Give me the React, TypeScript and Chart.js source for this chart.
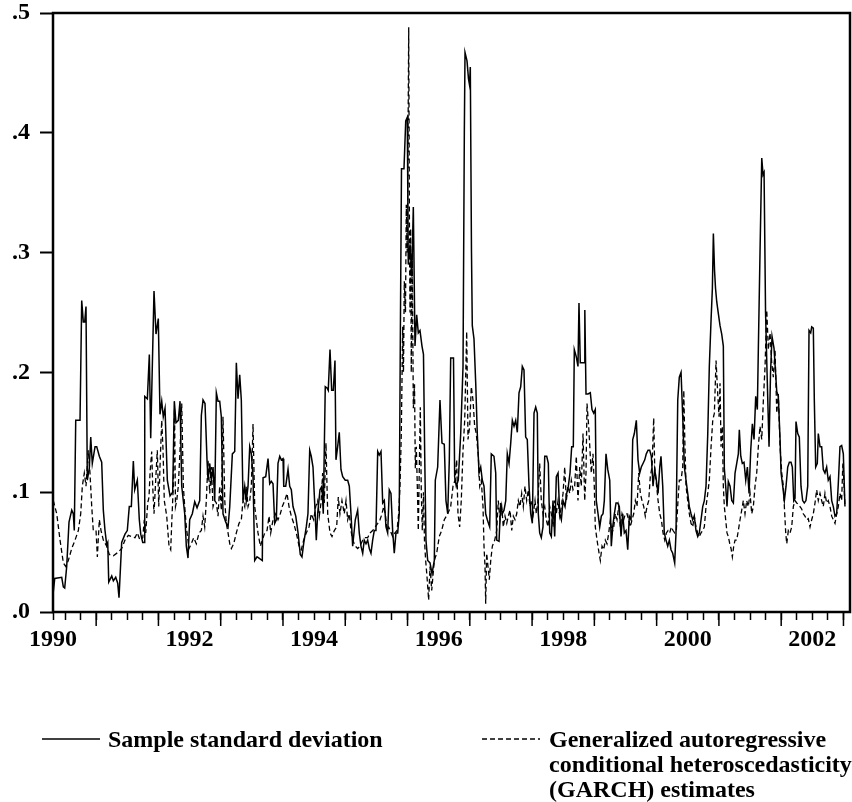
import React, { useEffect, useRef } from 'react';
import { Chart, registerables } from 'chart.js';

Chart.register(...registerables);

// Sample standard deviation (decimal year, value)
const SD_DATES = [
  1989.812, 1989.835, 1989.947, 1989.973, 1989.995, 1990.027, 1990.064, 1990.108, 1990.133, 1990.149,
  1990.172, 1990.241, 1990.268, 1990.294, 1990.316, 1990.337, 1990.358, 1990.390, 1990.413, 1990.438,
  1990.482, 1990.509, 1990.551, 1990.589, 1990.615, 1990.642, 1990.670, 1990.686, 1990.702, 1990.750,
  1990.776, 1990.814, 1990.846, 1990.867, 1990.910, 1990.963, 1991.000, 1991.032, 1991.065, 1991.097,
  1991.119, 1991.161, 1991.193, 1991.216, 1991.248, 1991.269, 1991.280, 1991.322, 1991.354, 1991.376,
  1991.429, 1991.461, 1991.498, 1991.525, 1991.553, 1991.578, 1991.606, 1991.643, 1991.686, 1991.729,
  1991.755, 1991.782, 1991.819, 1991.847, 1991.874, 1991.895, 1991.922, 1991.948, 1991.975, 1992.002,
  1992.044, 1992.083, 1992.120, 1992.163, 1992.189, 1992.216, 1992.248, 1992.280, 1992.296, 1992.324,
  1992.349, 1992.377, 1992.404, 1992.430, 1992.457, 1992.484, 1992.510, 1992.537, 1992.581, 1992.618,
  1992.645, 1992.687, 1992.725, 1992.751, 1992.778, 1992.805, 1992.831, 1992.858, 1992.886, 1992.911,
  1992.939, 1992.966, 1992.992, 1993.019, 1993.046, 1993.083, 1993.115, 1993.168, 1993.180, 1993.223,
  1993.260, 1993.287, 1993.313, 1993.340, 1993.367, 1993.393, 1993.420, 1993.448, 1993.473, 1993.501,
  1993.512, 1993.544, 1993.581, 1993.608, 1993.634, 1993.661, 1993.705, 1993.742, 1993.778, 1993.805,
  1993.832, 1993.874, 1993.901, 1993.929, 1993.954, 1993.982, 1994.009, 1994.035, 1994.057, 1994.094,
  1994.126, 1994.147, 1994.179, 1994.207, 1994.227, 1994.255, 1994.282, 1994.308, 1994.335, 1994.351,
  1994.378, 1994.404, 1994.431, 1994.459, 1994.500, 1994.539, 1994.565, 1994.592, 1994.619, 1994.661,
  1994.699, 1994.725, 1994.752, 1994.780, 1994.805, 1994.833, 1994.860, 1994.886, 1994.913, 1994.940,
  1994.966, 1994.993, 1995.021, 1995.046, 1995.074, 1995.101, 1995.127, 1995.154, 1995.181, 1995.207,
  1995.234, 1995.261, 1995.287, 1995.314, 1995.342, 1995.367, 1995.387, 1995.403, 1995.443, 1995.471,
  1995.496, 1995.512, 1995.540, 1995.567, 1995.593, 1995.620, 1995.647, 1995.673, 1995.700, 1995.732,
  1995.756, 1995.776, 1995.796, 1995.824, 1995.861, 1995.893, 1995.930, 1995.946, 1995.984, 1996.021,
  1996.053, 1996.090, 1996.117, 1996.145, 1996.171, 1996.193, 1996.238, 1996.257, 1996.283, 1996.315,
  1996.354, 1996.391, 1996.412, 1996.423, 1996.455, 1996.479, 1996.495, 1996.508, 1996.527, 1996.540,
  1996.567, 1996.595, 1996.620, 1996.648, 1996.675, 1996.701, 1996.728, 1996.755, 1996.781, 1996.819,
  1996.845, 1996.888, 1996.916, 1996.932, 1996.969, 1996.996, 1997.022, 1997.049, 1997.077, 1997.102,
  1997.130, 1997.157, 1997.183, 1997.210, 1997.237, 1997.263, 1997.290, 1997.317, 1997.343, 1997.370,
  1997.397, 1997.423, 1997.451, 1997.478, 1997.504, 1997.531, 1997.558, 1997.584, 1997.600, 1997.622,
  1997.648, 1997.675, 1997.703, 1997.735, 1997.761, 1997.783, 1997.809, 1997.836, 1997.863, 1997.889,
  1997.917, 1997.944, 1997.970, 1997.997, 1998.029, 1998.056, 1998.082, 1998.109, 1998.136, 1998.162,
  1998.178, 1998.210, 1998.237, 1998.253, 1998.274, 1998.334, 1998.347, 1998.366, 1998.398, 1998.435,
  1998.462, 1998.490, 1998.515, 1998.531, 1998.559, 1998.586, 1998.612, 1998.639, 1998.660, 1998.687,
  1998.715, 1998.747, 1998.772, 1998.795, 1998.821, 1998.848, 1998.875, 1998.901, 1998.928, 1998.955,
  1998.981, 1999.008, 1999.036, 1999.061, 1999.089, 1999.116, 1999.142, 1999.174, 1999.201, 1999.228,
  1999.254, 1999.281, 1999.309, 1999.334, 1999.362, 1999.389, 1999.415, 1999.442, 1999.469, 1999.495,
  1999.523, 1999.550, 1999.570, 1999.598, 1999.623, 1999.651, 1999.678, 1999.704, 1999.731, 1999.758,
  1999.790, 1999.811, 1999.839, 1999.864, 1999.892, 1999.919, 1999.945, 1999.972, 1999.999, 2000.025,
  2000.052, 2000.079, 2000.105, 2000.132, 2000.160, 2000.185, 2000.213, 2000.240, 2000.266, 2000.293,
  2000.321, 2000.346, 2000.374, 2000.395, 2000.411, 2000.430, 2000.446, 2000.465, 2000.491, 2000.518,
  2000.545, 2000.571, 2000.587, 2000.609, 2000.630, 2000.651, 2000.679, 2000.706, 2000.732, 2000.759,
  2000.786, 2000.812, 2000.828, 2000.851, 2000.876, 2000.903, 2000.931, 2000.957, 2000.984, 2001.011,
  2001.037, 2001.064, 2001.091, 2001.117, 2001.133, 2001.160, 2001.188, 2001.209, 2001.225, 2001.249,
  2001.273, 2001.305, 2001.329, 2001.353, 2001.385, 2001.429, 2001.454, 2001.482, 2001.498, 2001.525,
  2001.551, 2001.578, 2001.605, 2001.631, 2001.658, 2001.679, 2001.702, 2001.722, 2001.738, 2001.766,
  2001.791, 2001.818, 2001.845, 2001.871, 2001.898, 2001.926, 2001.947, 2001.974, 2001.990, 2002.016,
  2002.032, 2002.054, 2002.080, 2002.096, 2002.123, 2002.150, 2002.176, 2002.203, 2002.230, 2002.256,
  2002.284, 2002.311, 2002.337, 2002.364, 2002.391, 2002.417, 2002.444, 2002.471, 2002.498, 2002.524,
];
const SD_VALUES = [
  0.017, 0.028, 0.029, 0.021, 0.020, 0.038, 0.075, 0.085, 0.082, 0.068,
  0.160, 0.160, 0.260, 0.242, 0.242, 0.255, 0.110, 0.120, 0.146, 0.124,
  0.138, 0.138, 0.130, 0.125, 0.085, 0.068, 0.056, 0.058, 0.025, 0.030,
  0.026, 0.029, 0.024, 0.012, 0.058, 0.065, 0.068, 0.088, 0.088, 0.126,
  0.102, 0.110, 0.077, 0.065, 0.058, 0.058, 0.180, 0.178, 0.215, 0.145,
  0.268, 0.232, 0.245, 0.165, 0.176, 0.163, 0.170, 0.110, 0.097, 0.100,
  0.176, 0.158, 0.160, 0.176, 0.105, 0.095, 0.082, 0.055, 0.045, 0.077,
  0.082, 0.092, 0.087, 0.093, 0.164, 0.177, 0.174, 0.127, 0.110, 0.124,
  0.110, 0.121, 0.093, 0.183, 0.176, 0.176, 0.163, 0.082, 0.075, 0.071,
  0.088, 0.132, 0.134, 0.208, 0.178, 0.198, 0.177, 0.093, 0.105, 0.093,
  0.105, 0.138, 0.132, 0.113, 0.043, 0.046, 0.045, 0.043, 0.112, 0.113,
  0.128, 0.107, 0.109, 0.107, 0.074, 0.077, 0.124, 0.130, 0.127, 0.128,
  0.105, 0.105, 0.119, 0.105, 0.102, 0.088, 0.080, 0.066, 0.048, 0.046,
  0.057, 0.071, 0.082, 0.135, 0.130, 0.121, 0.091, 0.060, 0.082, 0.102,
  0.105, 0.082, 0.188, 0.187, 0.185, 0.219, 0.185, 0.185, 0.210, 0.127,
  0.138, 0.150, 0.119, 0.113, 0.110, 0.110, 0.105, 0.082, 0.055, 0.077,
  0.085, 0.066, 0.055, 0.049, 0.060, 0.057, 0.060, 0.053, 0.049, 0.060,
  0.068, 0.068, 0.134, 0.131, 0.134, 0.091, 0.093, 0.071, 0.066, 0.102,
  0.099, 0.068, 0.049, 0.066, 0.066, 0.082, 0.250, 0.370, 0.370, 0.410,
  0.413, 0.290, 0.307, 0.280, 0.338, 0.222, 0.248, 0.233, 0.235, 0.222,
  0.215, 0.130, 0.060, 0.043, 0.041, 0.032, 0.043, 0.110, 0.121, 0.177,
  0.141, 0.140, 0.093, 0.082, 0.127, 0.212, 0.212, 0.113, 0.105, 0.110,
  0.149, 0.205, 0.400, 0.467, 0.460, 0.445, 0.440, 0.455, 0.300, 0.239,
  0.228, 0.191, 0.149, 0.116, 0.121, 0.110, 0.105, 0.082, 0.077, 0.071,
  0.132, 0.130, 0.116, 0.060, 0.059, 0.091, 0.082, 0.085, 0.093, 0.132,
  0.124, 0.141, 0.160, 0.155, 0.160, 0.150, 0.183, 0.188, 0.205, 0.202,
  0.146, 0.144, 0.105, 0.082, 0.074, 0.166, 0.171, 0.166, 0.082, 0.066,
  0.062, 0.071, 0.130, 0.130, 0.124, 0.066, 0.063, 0.093, 0.063, 0.113,
  0.116, 0.082, 0.077, 0.093, 0.088, 0.099, 0.105, 0.116, 0.138, 0.138,
  0.219, 0.213, 0.205, 0.258, 0.208, 0.208, 0.252, 0.182, 0.182, 0.183,
  0.169, 0.166, 0.169, 0.093, 0.082, 0.071, 0.080, 0.082, 0.093, 0.132,
  0.119, 0.110, 0.055, 0.071, 0.082, 0.091, 0.091, 0.088, 0.063, 0.082,
  0.066, 0.068, 0.052, 0.080, 0.077, 0.144, 0.149, 0.160, 0.127, 0.116,
  0.121, 0.124, 0.127, 0.132, 0.135, 0.135, 0.130, 0.105, 0.119, 0.110,
  0.099, 0.121, 0.130, 0.105, 0.066, 0.060, 0.055, 0.060, 0.052, 0.049,
  0.041, 0.066, 0.177, 0.196, 0.200, 0.163, 0.121, 0.110, 0.099, 0.088,
  0.082, 0.077, 0.080, 0.068, 0.063, 0.066, 0.077, 0.088, 0.093, 0.105,
  0.149, 0.205, 0.244, 0.270, 0.316, 0.285, 0.270, 0.259, 0.249, 0.239,
  0.232, 0.222, 0.120, 0.105, 0.088, 0.109, 0.105, 0.093, 0.091, 0.116,
  0.124, 0.132, 0.152, 0.130, 0.124, 0.125, 0.110, 0.121, 0.099, 0.135,
  0.157, 0.144, 0.180, 0.169, 0.219, 0.300, 0.379, 0.365, 0.367, 0.250,
  0.200, 0.138, 0.200, 0.230, 0.220, 0.184, 0.180, 0.144, 0.116, 0.105,
  0.093, 0.105, 0.121, 0.125, 0.125, 0.121, 0.093, 0.095, 0.159, 0.149,
  0.146, 0.105, 0.093, 0.091, 0.093, 0.105, 0.235, 0.233, 0.238, 0.237,
  0.177, 0.121, 0.124, 0.149, 0.138, 0.138, 0.119, 0.116, 0.121, 0.110,
  0.113, 0.093, 0.088, 0.080, 0.082, 0.107, 0.138, 0.139, 0.132, 0.088,
];

// GARCH estimates (decimal year, value)
const GARCH_DATES = [
  1989.812, 1989.867, 1989.920, 1989.973, 1990.011, 1990.053, 1990.108, 1990.161, 1990.214, 1990.252,
  1990.278, 1990.310, 1990.337, 1990.374, 1990.401, 1990.429, 1990.454, 1990.498, 1990.519, 1990.551,
  1990.578, 1990.615, 1990.670, 1990.711, 1990.776, 1990.856, 1990.910, 1990.963, 1991.016, 1991.071,
  1991.124, 1991.161, 1991.204, 1991.248, 1991.273, 1991.296, 1991.328, 1991.349, 1991.365, 1991.392,
  1991.408, 1991.429, 1991.456, 1991.482, 1991.505, 1991.525, 1991.553, 1991.574, 1991.594, 1991.633,
  1991.670, 1991.697, 1991.718, 1991.739, 1991.758, 1991.774, 1991.794, 1991.819, 1991.847, 1991.874,
  1991.900, 1991.922, 1991.948, 1991.991, 1992.028, 1992.067, 1992.108, 1992.152, 1992.189, 1992.216,
  1992.243, 1992.269, 1992.296, 1992.324, 1992.349, 1992.377, 1992.404, 1992.430, 1992.457, 1992.484,
  1992.510, 1992.537, 1992.565, 1992.590, 1992.618, 1992.645, 1992.671, 1992.709, 1992.751, 1992.794,
  1992.831, 1992.858, 1992.886, 1992.911, 1992.939, 1992.966, 1992.992, 1993.019, 1993.046, 1993.072,
  1993.099, 1993.136, 1993.168, 1993.207, 1993.244, 1993.276, 1993.303, 1993.340, 1993.384, 1993.420,
  1993.457, 1993.489, 1993.528, 1993.565, 1993.597, 1993.634, 1993.673, 1993.714, 1993.758, 1993.794,
  1993.832, 1993.874, 1993.918, 1993.954, 1993.993, 1994.025, 1994.057, 1994.083, 1994.110, 1994.137,
  1994.163, 1994.190, 1994.218, 1994.255, 1994.287, 1994.324, 1994.362, 1994.388, 1994.415, 1994.447,
  1994.484, 1994.512, 1994.539, 1994.565, 1994.592, 1994.619, 1994.661, 1994.699, 1994.736, 1994.780,
  1994.822, 1994.860, 1994.897, 1994.940, 1994.982, 1995.021, 1995.058, 1995.090, 1995.117, 1995.143,
  1995.170, 1995.197, 1995.223, 1995.261, 1995.298, 1995.331, 1995.358, 1995.379, 1995.400, 1995.422,
  1995.435, 1995.448, 1995.467, 1995.480, 1995.496, 1995.519, 1995.532, 1995.540, 1995.551, 1995.560,
  1995.576, 1995.593, 1995.612, 1995.625, 1995.641, 1995.657, 1995.673, 1995.689, 1995.705, 1995.721,
  1995.737, 1995.756, 1995.772, 1995.791, 1995.812, 1995.839, 1995.861, 1995.888, 1995.930, 1995.968,
  1996.010, 1996.048, 1996.090, 1996.145, 1996.193, 1996.230, 1996.262, 1996.289, 1996.310, 1996.337,
  1996.363, 1996.391, 1996.418, 1996.450, 1996.471, 1996.498, 1996.524, 1996.551, 1996.578, 1996.604,
  1996.637, 1996.659, 1996.684, 1996.712, 1996.728, 1996.744, 1996.755, 1996.771, 1996.792, 1996.813,
  1996.836, 1996.862, 1996.900, 1996.932, 1996.957, 1996.985, 1997.012, 1997.038, 1997.065, 1997.093,
  1997.118, 1997.146, 1997.173, 1997.199, 1997.226, 1997.253, 1997.279, 1997.306, 1997.333, 1997.359,
  1997.386, 1997.413, 1997.439, 1997.467, 1997.494, 1997.520, 1997.547, 1997.568, 1997.595, 1997.622,
  1997.648, 1997.675, 1997.703, 1997.728, 1997.756, 1997.783, 1997.809, 1997.836, 1997.863, 1997.889,
  1997.917, 1997.944, 1997.970, 1997.997, 1998.024, 1998.050, 1998.077, 1998.104, 1998.130, 1998.157,
  1998.184, 1998.210, 1998.237, 1998.265, 1998.290, 1998.318, 1998.345, 1998.366, 1998.382, 1998.409,
  1998.435, 1998.451, 1998.478, 1998.499, 1998.515, 1998.543, 1998.576, 1998.596, 1998.623, 1998.650,
  1998.676, 1998.703, 1998.731, 1998.756, 1998.784, 1998.811, 1998.837, 1998.864, 1998.891, 1998.917,
  1998.944, 1998.971, 1998.997, 1999.024, 1999.051, 1999.077, 1999.105, 1999.132, 1999.158, 1999.185,
  1999.212, 1999.238, 1999.265, 1999.293, 1999.318, 1999.346, 1999.373, 1999.398, 1999.426, 1999.453,
  1999.469, 1999.490, 1999.523, 1999.550, 1999.576, 1999.603, 1999.630, 1999.656, 1999.683, 1999.710,
  1999.736, 1999.763, 1999.790, 1999.816, 1999.843, 1999.864, 1999.892, 1999.919, 1999.936, 1999.952,
  1999.972, 1999.999, 2000.025, 2000.052, 2000.079, 2000.105, 2000.132, 2000.160, 2000.185, 2000.213,
  2000.240, 2000.266, 2000.293, 2000.321, 2000.346, 2000.374, 2000.401, 2000.427, 2000.454, 2000.481,
  2000.502, 2000.518, 2000.534, 2000.555, 2000.571, 2000.587, 2000.609, 2000.630, 2000.651, 2000.674,
  2000.695, 2000.716, 2000.738, 2000.759, 2000.786, 2000.812, 2000.839, 2000.866, 2000.892, 2000.919,
  2000.946, 2000.972, 2001.000, 2001.027, 2001.053, 2001.080, 2001.107, 2001.133, 2001.160, 2001.188,
  2001.214, 2001.241, 2001.268, 2001.294, 2001.321, 2001.348, 2001.374, 2001.401, 2001.429, 2001.454,
  2001.482, 2001.509, 2001.535, 2001.551, 2001.573, 2001.589, 2001.615, 2001.642, 2001.669, 2001.695,
  2001.722, 2001.749, 2001.775, 2001.802, 2001.829, 2001.855, 2001.882, 2001.910, 2001.935, 2001.963,
  2001.990, 2002.016, 2002.043, 2002.070, 2002.096, 2002.123, 2002.150, 2002.176, 2002.203, 2002.230,
  2002.256, 2002.284, 2002.311, 2002.337, 2002.364, 2002.391, 2002.417, 2002.444, 2002.471, 2002.490,
  2002.506, 2002.524,
];
const GARCH_VALUES = [
  0.093, 0.082, 0.060, 0.041, 0.038, 0.043, 0.053, 0.060, 0.068, 0.082,
  0.105, 0.116, 0.105, 0.135, 0.116, 0.088, 0.068, 0.068, 0.046, 0.077,
  0.068, 0.060, 0.055, 0.048, 0.047, 0.050, 0.053, 0.060, 0.064, 0.063,
  0.062, 0.066, 0.060, 0.062, 0.077, 0.066, 0.091, 0.096, 0.116, 0.134,
  0.105, 0.082, 0.110, 0.135, 0.088, 0.121, 0.160, 0.135, 0.093, 0.080,
  0.055, 0.052, 0.080, 0.105, 0.170, 0.088, 0.093, 0.105, 0.135, 0.174,
  0.105, 0.088, 0.071, 0.053, 0.057, 0.062, 0.057, 0.066, 0.068, 0.080,
  0.071, 0.093, 0.127, 0.099, 0.121, 0.088, 0.093, 0.091, 0.080, 0.105,
  0.085, 0.163, 0.093, 0.074, 0.066, 0.057, 0.053, 0.057, 0.066, 0.074,
  0.077, 0.093, 0.088, 0.105, 0.088, 0.093, 0.105, 0.157, 0.088, 0.077,
  0.066, 0.055, 0.060, 0.066, 0.068, 0.080, 0.066, 0.077, 0.082, 0.077,
  0.082, 0.088, 0.093, 0.099, 0.088, 0.080, 0.074, 0.066, 0.055, 0.052,
  0.060, 0.066, 0.071, 0.082, 0.077, 0.088, 0.093, 0.080, 0.091, 0.116,
  0.091, 0.141, 0.082, 0.066, 0.063, 0.068, 0.071, 0.096, 0.082, 0.093,
  0.082, 0.093, 0.077, 0.082, 0.068, 0.060, 0.055, 0.053, 0.055, 0.060,
  0.062, 0.062, 0.066, 0.068, 0.071, 0.074, 0.077, 0.082, 0.088, 0.082,
  0.068, 0.071, 0.068, 0.063, 0.066, 0.068, 0.082, 0.105, 0.149, 0.238,
  0.200, 0.276, 0.250, 0.340, 0.300, 0.488, 0.300, 0.250, 0.320, 0.200,
  0.300, 0.170, 0.190, 0.120, 0.138, 0.105, 0.068, 0.120, 0.171, 0.100,
  0.068, 0.100, 0.060, 0.043, 0.030, 0.010, 0.038, 0.018, 0.043, 0.049,
  0.063, 0.068, 0.077, 0.082, 0.088, 0.105, 0.110, 0.127, 0.082, 0.071,
  0.093, 0.135, 0.160, 0.234, 0.144, 0.155, 0.188, 0.177, 0.155, 0.149,
  0.130, 0.105, 0.110, 0.088, 0.055, 0.038, 0.007, 0.049, 0.038, 0.027,
  0.043, 0.055, 0.060, 0.068, 0.093, 0.077, 0.088, 0.071, 0.080, 0.074,
  0.080, 0.085, 0.068, 0.080, 0.077, 0.082, 0.093, 0.088, 0.099, 0.088,
  0.105, 0.093, 0.102, 0.088, 0.093, 0.082, 0.093, 0.082, 0.093, 0.124,
  0.093, 0.082, 0.088, 0.077, 0.071, 0.088, 0.082, 0.071, 0.093, 0.082,
  0.093, 0.080, 0.088, 0.099, 0.121, 0.093, 0.105, 0.099, 0.110, 0.102,
  0.105, 0.130, 0.093, 0.121, 0.105, 0.149, 0.093, 0.116, 0.174, 0.155,
  0.130, 0.116, 0.132, 0.105, 0.071, 0.060, 0.049, 0.043, 0.055, 0.052,
  0.060, 0.057, 0.066, 0.077, 0.066, 0.071, 0.082, 0.077, 0.088, 0.071,
  0.082, 0.077, 0.082, 0.082, 0.077, 0.071, 0.077, 0.082, 0.093, 0.088,
  0.116, 0.099, 0.093, 0.088, 0.080, 0.088, 0.093, 0.113, 0.121, 0.162,
  0.121, 0.110, 0.093, 0.082, 0.077, 0.066, 0.060, 0.066, 0.068, 0.066,
  0.071, 0.068, 0.066, 0.068, 0.093, 0.110, 0.110, 0.121, 0.185, 0.144,
  0.105, 0.093, 0.082, 0.074, 0.071, 0.080, 0.071, 0.066, 0.063, 0.066,
  0.068, 0.071, 0.088, 0.099, 0.110, 0.138, 0.160, 0.166, 0.210, 0.182,
  0.163, 0.191, 0.138, 0.155, 0.105, 0.088, 0.077, 0.066, 0.063, 0.057,
  0.053, 0.046, 0.055, 0.060, 0.060, 0.068, 0.077, 0.085, 0.093, 0.082,
  0.093, 0.088, 0.099, 0.082, 0.088, 0.105, 0.116, 0.138, 0.155, 0.144,
  0.177, 0.205, 0.252, 0.219, 0.233, 0.208, 0.196, 0.219, 0.166, 0.182,
  0.138, 0.116, 0.105, 0.088, 0.066, 0.057, 0.068, 0.066, 0.071, 0.088,
  0.093, 0.091, 0.090, 0.088, 0.086, 0.082, 0.080, 0.077, 0.078, 0.071,
  0.077, 0.082, 0.091, 0.102, 0.093, 0.099, 0.093, 0.088, 0.099, 0.091,
  0.093, 0.088, 0.080, 0.077, 0.074, 0.082, 0.088, 0.099, 0.093, 0.124,
  0.110, 0.088,
];

const Y_TICKS = [0, 0.1, 0.2, 0.3, 0.4, 0.5];
const YEAR_LABELS = [1990, 1992, 1994, 1996, 1998, 2000, 2002];
const X_MIN = 1989.807;
const X_MAX = 2002.605;
const SD_LEGEND = ['Sample standard deviation'];
const GARCH_LEGEND = ['Generalized autoregressive', 'conditional heteroscedasticity', '(GARCH) estimates'];

const FONT_FAMILY = '"Liberation Serif", "Times New Roman", serif';

export default function App() {
  const canvasRef = useRef<HTMLCanvasElement>(null);

  useEffect(() => {
    const canvas = canvasRef.current;
    if (!canvas) return;

    // axis start (first observation, labelled with the first year) + quarterly ticks
    const xTicks: number[] = [X_MIN];
    for (let q = 0; q <= 50; q++) xTicks.push(1990 + q * 0.25);
    const firstYear = YEAR_LABELS[0];

    const framePlugin = {
      id: 'frameAndLegend',
      afterDraw(chart: any) {
        const { ctx, chartArea: a, scales } = chart;
        ctx.save();
        // frame
        ctx.strokeStyle = '#000';
        ctx.lineWidth = 2.5;
        ctx.setLineDash([]);
        ctx.strokeRect(a.left, a.top, a.right - a.left, a.bottom - a.top);
        // long ticks at mid-year
        ctx.lineWidth = 1.5;
        for (let yr = 1990.5; yr <= 2002.5; yr += 1) {
          const px = scales.x.getPixelForValue(yr);
          ctx.beginPath();
          ctx.moveTo(px, a.bottom);
          ctx.lineTo(px, a.bottom + 14);
          ctx.stroke();
        }
        // legend
        const ds = chart.data.datasets;
        ctx.font = `bold 24px ${FONT_FAMILY}`;
        ctx.fillStyle = '#000';
        ctx.textBaseline = 'alphabetic';
        ctx.textAlign = 'left';
        const lineY = 739;
        const base = 747;
        const lh = 25;
        ctx.lineWidth = ds[0].borderWidth;
        ctx.setLineDash([]);
        ctx.beginPath();
        ctx.moveTo(42, lineY);
        ctx.lineTo(100, lineY);
        ctx.stroke();
        SD_LEGEND.forEach((t, i) => ctx.fillText(t, 108, base + i * lh));
        ctx.lineWidth = ds[1].borderWidth;
        ctx.setLineDash(ds[1].borderDash);
        ctx.beginPath();
        ctx.moveTo(482, lineY);
        ctx.lineTo(540, lineY);
        ctx.stroke();
        ctx.setLineDash([]);
        GARCH_LEGEND.forEach((t, i) => ctx.fillText(t, 549, base + i * lh));
        ctx.restore();
      },
    };

    const tickFont = { family: FONT_FAMILY, size: 24, weight: 'bold' as const };

    const chart = new Chart(canvas, {
      type: 'line',
      data: {
        datasets: [
          {
            label: SD_LEGEND.join(' '),
            data: SD_DATES.map((d, i) => ({ x: d, y: SD_VALUES[i] })),
            borderColor: '#000',
            borderWidth: 1.5,
            pointRadius: 0,
            fill: false,
            tension: 0,
          },
          {
            label: GARCH_LEGEND.join(' '),
            data: GARCH_DATES.map((d, i) => ({ x: d, y: GARCH_VALUES[i] })),
            borderColor: '#000',
            borderWidth: 1.3,
            borderDash: [5, 3],
            pointRadius: 0,
            fill: false,
            tension: 0,
          },
        ],
      },
      options: {
        responsive: false,
        animation: false,
        devicePixelRatio: 1,
        layout: { padding: { left: 0, right: 2, top: 13, bottom: 130 } },
        plugins: { legend: { display: false }, tooltip: { enabled: false } },
        scales: {
          x: {
            type: 'linear',
            min: X_MIN,
            max: X_MAX,
            afterBuildTicks: (s: any) => {
              s.ticks = xTicks.map((v) => ({ value: v }));
            },
            afterFit: (s: any) => {
              s.height = 60;
              s.paddingLeft = 0;
              s.paddingRight = 0;
            },
            border: { display: false },
            grid: { drawOnChartArea: false, drawTicks: true, tickLength: 8, tickWidth: 1.5, tickColor: '#000' },
            ticks: {
              autoSkip: false,
              maxRotation: 0,
              minRotation: 0,
              padding: 5,
              color: '#000',
              font: tickFont,
              callback: (v: any) => {
                const n = Number(v);
                if (n === X_MIN) return String(firstYear);
                if (n !== firstYear && YEAR_LABELS.includes(n)) return String(n);
                return '';
              },
            },
          },
          y: {
            min: 0,
            max: 0.5,
            afterBuildTicks: (s: any) => {
              s.ticks = Y_TICKS.map((v) => ({ value: v }));
            },
            afterFit: (s: any) => {
              s.width = 53;
              s.paddingTop = 0;
              s.paddingBottom = 0;
            },
            border: { display: false },
            grid: { drawOnChartArea: false, drawTicks: true, tickLength: 13, tickWidth: 2, tickColor: '#000' },
            ticks: {
              padding: 10,
              color: '#000',
              font: tickFont,
              callback: (v: any) => '.' + Math.round(Number(v) * 10),
            },
          },
        },
      },
      plugins: [framePlugin],
    });

    return () => chart.destroy();
  }, []);

  return (
    <div style={{ position: 'absolute', left: 0, top: 0, width: 852, height: 802, background: '#fff' }}>
      <canvas ref={canvasRef} width={852} height={802} style={{ width: '852px', height: '802px', display: 'block' }} />
    </div>
  );
}
